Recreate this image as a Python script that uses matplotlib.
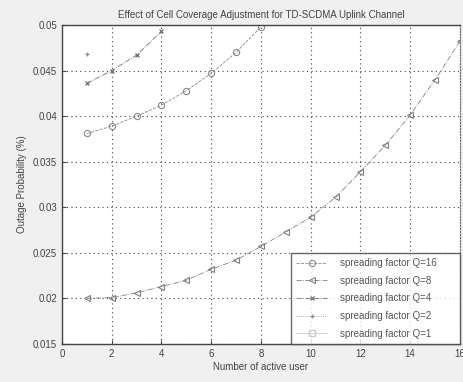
"""Effect of cell coverage adjustment for TD-SCDMA uplink channel"""
import matplotlib
matplotlib.use('Agg')
import matplotlib.pyplot as plt

plt.rcParams['font.family'] = ['Liberation Sans', 'DejaVu Sans']

# 读图数据
users_q16 = [1, 2, 3, 4, 5, 6, 7, 8]
q16 = [0.0381, 0.0389, 0.0400, 0.0412, 0.0428, 0.0447, 0.0470, 0.0498]

users_q8 = [1, 2, 3, 4, 5, 6, 7, 8, 9, 10, 11, 12, 13, 14, 15, 16]
q8 = [0.0200, 0.0201, 0.0206, 0.0213, 0.0220, 0.0232, 0.0242, 0.0257,
      0.0273, 0.0289, 0.0311, 0.0339, 0.0368, 0.0401, 0.0440, 0.0482]

users_q4 = [1, 2, 3, 4]
q4 = [0.0436, 0.0450, 0.0467, 0.0493]

users_q2 = [1]
q2 = [0.0468]

users_q1 = [1]
q1 = [0.0525]

xticks = [0, 2, 4, 6, 8, 10, 12, 14, 16]
yticks = [0.015, 0.02, 0.025, 0.03, 0.035, 0.04, 0.045, 0.05]
ytick_labels = ['0.015', '0.02', '0.025', '0.03', '0.035', '0.04', '0.045', '0.05']

fig = plt.figure(figsize=(4.64, 3.82), dpi=100, facecolor='#f0f0f0')
ax = fig.add_axes([0.1336, 0.0995, 0.8575, 0.835])

ax.plot(users_q16, q16, '--o', color='#8a8a8a', linewidth=0.6, markersize=4.5,
        markerfacecolor='none', markeredgewidth=0.8, label='spreading factor Q=16')
ax.plot(users_q8, q8, '-.<', color='#808080', linewidth=0.6, markersize=4,
        markerfacecolor='none', markeredgewidth=0.8, label='spreading factor Q=8')
ax.plot(users_q4, q4, '-.x', color='#707070', linewidth=0.6, markersize=3.5,
        markeredgewidth=0.9, label='spreading factor Q=4')
ax.plot(users_q2, q2, ':+', color='#8a8a8a', linewidth=0.6, markersize=3.5,
        markeredgewidth=0.9, label='spreading factor Q=2')
ax.plot(users_q1, q1, '-s', color='#cccccc', linewidth=0.6, markersize=4,
        markerfacecolor='none', label='spreading factor Q=1')

ax.set_xlim(0, 16)
ax.set_ylim(0.015, 0.05)
ax.set_xticks(xticks)
ax.set_yticks(yticks)
ax.set_yticklabels(ytick_labels)
ax.tick_params(direction='in', labelsize=7, length=3, colors='#444444')
ax.grid(True, linestyle=(0, (1, 3)), color='#444444', linewidth=0.8)
for side in ['left', 'top', 'bottom']:
    ax.spines[side].set_color('#444444')
    ax.spines[side].set_linewidth(1.0)
ax.spines['right'].set_linestyle(':')
ax.spines['right'].set_color('#666666')

ax.set_title('Effect of Cell Coverage Adjustment for TD-SCDMA Uplink Channel',
             fontsize=7, color='#444444', pad=5)
ax.set_xlabel('Number of active user', fontsize=7, color='#444444', labelpad=2)
ax.set_ylabel('Outage Probability (%)', fontsize=7, color='#444444', labelpad=4)

leg = ax.legend(loc='lower left', bbox_to_anchor=(0.575, 0, 0.425, 0.281),
                mode='expand', fontsize=7, frameon=True, fancybox=False,
                borderaxespad=0, handlelength=3.2, labelspacing=0.78,
                borderpad=0.55, handletextpad=1.3)
leg.get_frame().set_edgecolor('#444444')
leg.get_frame().set_linewidth(1.0)
for t in leg.get_texts():
    t.set_color('#555555')

plt.savefig('out.png', dpi=100, facecolor=fig.get_facecolor())
